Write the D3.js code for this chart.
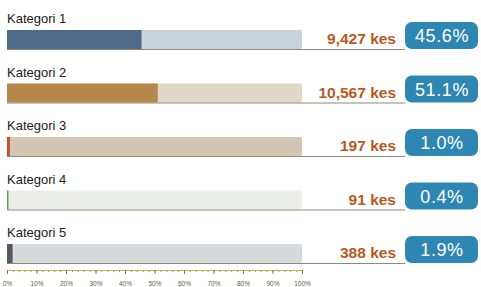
<!DOCTYPE html>
<html>
<head>
<meta charset="utf-8">
<script src="https://cdn.jsdelivr.net/npm/d3@7"></script>
<style>
  body { margin: 0; background: #fff; }
  svg { display: block; font-family: "Liberation Sans", Arial, sans-serif; }
</style>
</head>
<body>
<svg width="481" height="287"></svg>
<script>
// data
const categories = ["Kategori 1", "Kategori 2", "Kategori 3", "Kategori 4", "Kategori 5"]
const counts = [9427, 10567, 197, 91, 388]
const shares = [45.6, 51.1, 1.0, 0.4, 1.9]
const tickValues = [0, 0.1, 0.2, 0.3, 0.4, 0.5, 0.6, 0.7, 0.8, 0.9, 1]

const fillColors = ["#4d6a8a", "#b5874a", "#c4532c", "#6f9a3c", "#55595d"]
const trackColors = ["#c8d2db", "#e0d9c8", "#d3c7b3", "#eceeea", "#d6dadd"]

let svg = d3.select("svg")

let x = d3.scaleLinear().domain([0, 1]).range([7, 302])
let row = d3.scaleBand().domain(d3.range(categories.length)).range([0, 267.5])

const labelY = i => row(i) + 23
const barY = i => row(i) + 30
const barH = 19
const lineY = i => barY(i) + barH

let rows = svg.selectAll("g.row")
    .data(categories)
    .enter()
    .append("g")
        .attr("class", "row")

rows.append("text")
    .attr("x", 7)
    .attr("y", (d, i) => labelY(i))
    .attr("font-size", 13)
    .attr("fill", "#1a1a1a")
    .text(d => d)

// track
rows.append("rect")
    .attr("x", x(0))
    .attr("y", (d, i) => barY(i))
    .attr("width", x(1) - x(0))
    .attr("height", barH)
    .attr("rx", 2)
    .style("fill", (d, i) => trackColors[i])

// value
rows.append("rect")
    .attr("x", x(0))
    .attr("y", (d, i) => barY(i))
    .attr("width", (d, i) => Math.max(1.5, x(shares[i] / 100) - x(0)))
    .attr("height", barH)
    .style("fill", (d, i) => fillColors[i])

// base line under each row
rows.append("line")
    .attr("x1", x(0))
    .attr("x2", 405)
    .attr("y1", (d, i) => lineY(i) + 0.5)
    .attr("y2", (d, i) => lineY(i) + 0.5)
    .attr("stroke", "#8c8a72")
    .attr("stroke-width", 1)

rows.append("text")
    .attr("x", 396)
    .attr("y", (d, i) => lineY(i) - 5)
    .attr("text-anchor", "end")
    .attr("font-size", 15.5)
    .attr("font-weight", "bold")
    .attr("fill", "#b85a1e")
    .text((d, i) => d3.format(",")(counts[i]) + " kes")

rows.append("rect")
    .attr("x", 405)
    .attr("y", (d, i) => lineY(i) - 27)
    .attr("width", 73)
    .attr("height", 27)
    .attr("rx", 7)
    .style("fill", "#2e87b3")

rows.append("text")
    .attr("x", 442)
    .attr("y", (d, i) => lineY(i) - 7)
    .attr("text-anchor", "middle")
    .attr("font-size", 18)
    .attr("letter-spacing", 0.6)
    .attr("fill", "#fff")
    .text((d, i) => shares[i].toFixed(1) + "%")

// percentage axis at the bottom
let axisG = svg.append("g")
    .attr("transform", "translate(0,270)")

axisG.append("g")
    .call(d3.axisBottom(x).tickValues(d3.range(0, 1.001, 0.02)).tickSize(2).tickFormat(""))
    .call(g => g.select(".domain").remove())
    .selectAll("line").attr("stroke", "#8a8f9a")

axisG.append("g")
    .call(d3.axisBottom(x).tickValues(tickValues).tickSize(4).tickFormat(d3.format(".0%")))
    .call(g => g.select(".domain").attr("stroke", "#c2b84a"))
    .call(g => g.selectAll(".tick line").attr("stroke", "#7a7a6a"))
    .call(g => g.selectAll(".tick text")
        .attr("y", 11)
        .attr("font-size", 6.5)
        .attr("fill", "#5e5e3a"))
</script>
</body>
</html>
